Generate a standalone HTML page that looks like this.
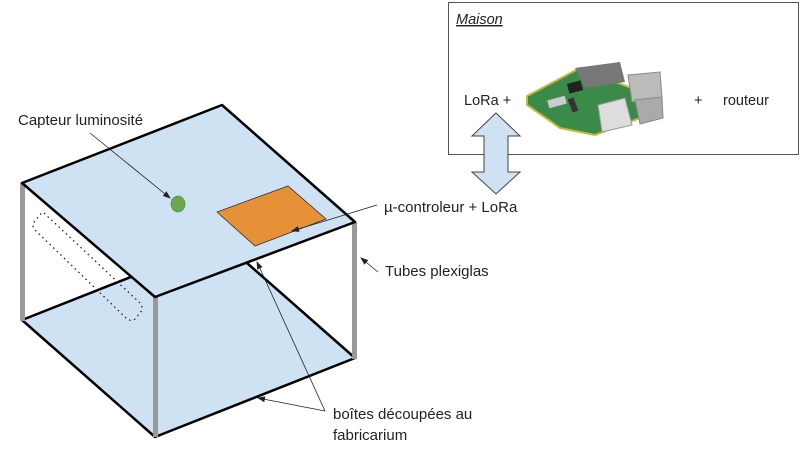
<!DOCTYPE html>
<html><head><meta charset="utf-8"><style>
html,body{margin:0;padding:0;background:#fff;}
svg{display:block;font-family:"Liberation Sans",sans-serif;}
</style></head><body>
<svg width="800" height="470" viewBox="0 0 800 470" xmlns="http://www.w3.org/2000/svg">
<defs>
<marker id="ah" markerWidth="8" markerHeight="6" refX="7" refY="3" orient="auto" markerUnits="userSpaceOnUse">
<path d="M0,0 L8,3 L0,6 z" fill="#222"/></marker>
</defs>
<rect x="448.5" y="2.5" width="350" height="152" fill="#fff" stroke="#555" stroke-width="1"/>
<text x="456" y="24" font-size="14.5" font-style="italic" text-decoration="underline" fill="#222">Maison</text>
<text x="464" y="105" font-size="14.5" fill="#222">LoRa +</text>
<text x="694" y="105" font-size="14.5" fill="#222">+</text>
<text x="723" y="105" font-size="14.5" fill="#222">routeur</text>
<g>
<polygon points="527,96 580,68 605,78 650,95 640,118 595,135 560,128 527,105" fill="#3c8a4a"/>
<polygon points="527,96 580,68 605,78 650,95 640,118 595,135 560,128 527,105" fill="none" stroke="#c8b93a" stroke-width="2"/>
<polygon points="575,68 620,62 625,82 585,88" fill="#777"/>
<rect x="568" y="82" width="14" height="10" fill="#222" transform="rotate(-15 575 87)"/>
<polygon points="598,105 625,98 632,125 602,132" fill="#ddd" stroke="#999"/>
<polygon points="628,75 660,72 662,98 632,102" fill="#bbb" stroke="#888"/>
<polygon points="635,100 662,97 663,118 640,124" fill="#aaa" stroke="#888"/>
<rect x="548" y="98" width="18" height="8" fill="#ccc" transform="rotate(-15 557 102)"/>
<rect x="570" y="98" width="6" height="14" fill="#333" transform="rotate(-20 573 105)"/>
</g>
<polygon points="496,113 520,136 508,136 508,172 520,172 496,194 472,172 484,172 484,136 472,136" fill="#cfe2f3" stroke="#444" stroke-width="1"/>
<polygon points="22,320 222,241 355,358 155,437" fill="#cfe2f3" stroke="#000" stroke-width="2.5" stroke-linejoin="round"/>
<rect x="20" y="183" width="5" height="138" fill="#999"/>
<rect x="153" y="297" width="5" height="140" fill="#999"/>
<rect x="352" y="222" width="5" height="137" fill="#999"/>
<path d="M44,213 L140,303 Q144,308 140,313 L135,319 Q130,322 126,318 L35,230 Q31,225 35,221 L39,216 Q41,213 44,213 Z" fill="none" stroke="#222" stroke-width="1.3" stroke-dasharray="1.5,3.5"/>
<polygon points="22,183 222,105 355,222 155,297" fill="#cfe2f3" stroke="#000" stroke-width="2.5" stroke-linejoin="round"/>
<polygon points="217,212 288,186 326,219 255,246" fill="#e69138" stroke="#333" stroke-width="0.8"/>
<ellipse cx="178" cy="204" rx="7" ry="8" fill="#6aa84f" stroke="#38761d" stroke-width="0.8" stroke-dasharray="1.5,1"/>
<text x="18" y="125" font-size="15" fill="#222">Capteur luminosité</text>
<line x1="90" y1="133" x2="170" y2="198" stroke="#222" stroke-width="0.8" marker-end="url(#ah)"/>
<text x="384" y="212" font-size="15" fill="#222">µ-controleur + LoRa</text>
<line x1="377" y1="205" x2="292" y2="231" stroke="#222" stroke-width="0.8" marker-end="url(#ah)"/>
<text x="385" y="276" font-size="15" fill="#222">Tubes plexiglas</text>
<line x1="378" y1="272" x2="361" y2="258" stroke="#222" stroke-width="0.8" marker-end="url(#ah)"/>
<text x="333" y="419" font-size="15" fill="#222">boîtes découpées au</text>
<text x="333" y="440" font-size="15" fill="#222">fabricarium</text>
<line x1="325" y1="411" x2="257" y2="262" stroke="#222" stroke-width="0.8" marker-end="url(#ah)"/>
<line x1="325" y1="411" x2="258" y2="398" stroke="#222" stroke-width="0.8" marker-end="url(#ah)"/>
</svg>
</body></html>
